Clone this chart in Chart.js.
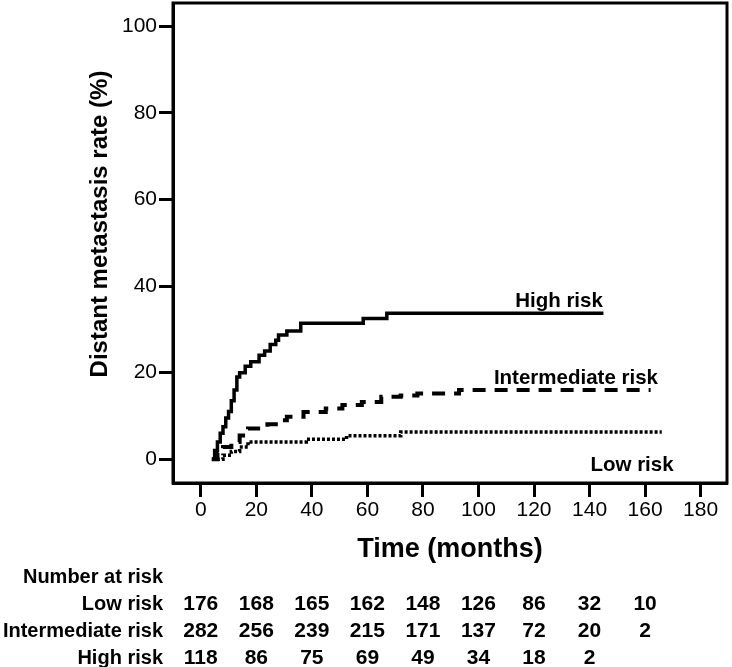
<!DOCTYPE html>
<html>
<head>
<meta charset="utf-8">
<title>Distant metastasis rate</title>
<script src="https://cdn.jsdelivr.net/npm/chart.js@4/dist/chart.umd.min.js"></script>
<style>
  html, body { margin: 0; padding: 0; background: #fff; }
</style>
</head>
<body>
<canvas id="chart" width="732" height="667"></canvas>
<script>
// cumulative incidence curves (months, %)
const highTime = [4, 5, 6, 7, 8, 9, 10, 11, 12, 13, 14, 16, 18, 21, 23, 25, 27, 28, 31, 36, 58.5, 67, 145];
const highRate = [0, 2, 4, 6, 7.5, 9.5, 11, 13.5, 16, 19, 20, 21.5, 22.5, 24, 25, 26.5, 27.5, 28.7, 29.6, 31.4, 32.5, 33.7, 33.7];

const interTime = [4, 6, 8, 11, 14, 17, 24, 28, 31, 37, 45, 51, 58, 65, 72, 78, 93, 162];
const interRate = [0, 1.5, 2.8, 4, 5.5, 7.1, 8.1, 9, 9.8, 10.9, 11.7, 12.5, 13.2, 14.4, 14.7, 15.2, 16.0, 16.0];

const lowTime = [4, 8, 11, 14, 17, 38, 52.5, 72, 166];
const lowRate = [0, 0.9, 1.8, 2.8, 4.0, 4.6, 5.4, 6.3, 6.3];

const xTicks = [0, 20, 40, 60, 80, 100, 120, 140, 160, 180];
const yTicks = [0, 20, 40, 60, 80, 100];

// number at risk table
const riskTimes = [0, 20, 40, 60, 80, 100, 120, 140, 160];
const riskGroups = ['Low risk', 'Intermediate risk', 'High risk'];
const atRiskLow = [176, 168, 165, 162, 148, 126, 86, 32, 10];
const atRiskInter = [282, 256, 239, 215, 171, 137, 72, 20, 2];
const atRiskHigh = [118, 86, 75, 69, 49, 34, 18, 2];

const curveNames = ['High risk', 'Intermediate risk', 'Low risk'];

const FONT = '"Liberation Sans", Arial, Helvetica, sans-serif';

function toPoints(ts, vs) {
    return ts.map((t, i) => ({x: t, y: vs[i]}));
}

// frame, y title, curve labels and the at-risk table
const extras = {
    id: 'extras',
    afterDraw(chart) {
        const {ctx, chartArea: a} = chart;
        const x = chart.scales.x, y = chart.scales.y;
        ctx.save();
        ctx.strokeStyle = '#000';
        ctx.lineWidth = 3;
        ctx.strokeRect(a.left, a.top, a.right - a.left, a.bottom - a.top);

        ctx.fillStyle = '#000';

        // y axis title
        ctx.save();
        ctx.translate(100, 224);
        ctx.rotate(-Math.PI / 2);
        ctx.font = 'bold 24px ' + FONT;
        ctx.textAlign = 'center';
        ctx.textBaseline = 'middle';
        ctx.fillText('Distant metastasis rate (%)', 0, 0);
        ctx.restore();

        // curve labels (anchored at cap centre)
        const labelAt = [[129, 36.8], [135.1, 19.2], [155.3, -0.9]];
        ctx.font = 'bold 20.5px ' + FONT;
        ctx.textAlign = 'center';
        ctx.textBaseline = 'alphabetic';
        curveNames.forEach((name, i) => {
            ctx.fillText(name, x.getPixelForValue(labelAt[i][0]), y.getPixelForValue(labelAt[i][1]) + 7.5);
        });

        // number at risk
        const rows = [atRiskLow, atRiskInter, atRiskHigh];
        const baselines = [609.5, 636.5, 663.5];
        ctx.font = 'bold 20px ' + FONT;
        ctx.textAlign = 'right';
        ctx.fillText('Number at risk', 163, 582.5);
        riskGroups.forEach((g, r) => {
            ctx.font = 'bold 20px ' + FONT;
            ctx.textAlign = 'right';
            ctx.fillText(g, 163, baselines[r]);
            ctx.font = 'bold 21px ' + FONT;
            ctx.textAlign = 'center';
            rows[r].forEach((n, i) => {
                ctx.fillText(String(n), x.getPixelForValue(riskTimes[i]), baselines[r]);
            });
        });
        ctx.restore();
    }
};

const axisGrid = {
    drawOnChartArea: false,
    drawTicks: true,
    tickLength: 14,
    tickWidth: 3,
    tickColor: '#000'
};

new Chart(document.getElementById('chart'), {
    type: 'line',
    data: {
        datasets: [
            {
                label: curveNames[0],
                data: toPoints(highTime, highRate),
                borderColor: '#000',
                borderWidth: 3.5,
                stepped: 'before',
                pointRadius: 0
            },
            {
                label: curveNames[1],
                data: toPoints(interTime, interRate),
                borderColor: '#000',
                borderWidth: 4,
                borderDash: [13, 9],
                stepped: 'before',
                pointRadius: 0
            },
            {
                label: curveNames[2],
                data: toPoints(lowTime, lowRate),
                borderColor: '#000',
                borderWidth: 3.5,
                borderDash: [3, 2],
                stepped: 'before',
                pointRadius: 0
            }
        ]
    },
    options: {
        responsive: false,
        animation: false,
        devicePixelRatio: 1,
        layout: { padding: { top: 3, right: 5, left: 0, bottom: 0 } },
        plugins: {
            legend: { display: false },
            tooltip: { enabled: false }
        },
        scales: {
            x: {
                type: 'linear',
                min: -10,
                max: 189.5,
                afterFit(s) { s.height = 184; s.paddingLeft = 0; s.paddingRight = 0; },
                afterBuildTicks(s) { s.ticks = xTicks.map(v => ({value: v})); },
                grid: axisGrid,
                border: { display: true, color: '#000', width: 3 },
                ticks: {
                    color: '#000',
                    font: { family: FONT, size: 21 },
                    padding: 1,
                    maxRotation: 0,
                    autoSkip: false
                },
                title: {
                    display: true,
                    text: 'Time (months)',
                    color: '#000',
                    font: { family: FONT, size: 27, weight: 'bold' },
                    padding: { top: 0, bottom: 101 }
                }
            },
            y: {
                type: 'linear',
                min: -5.5,
                max: 105.4,
                afterFit(s) { s.width = 173; s.paddingTop = 0; s.paddingBottom = 0; },
                afterBuildTicks(s) { s.ticks = yTicks.map(v => ({value: v})); },
                grid: axisGrid,
                border: { display: true, color: '#000', width: 3 },
                ticks: {
                    color: '#000',
                    font: { family: FONT, size: 21 },
                    padding: 2
                }
            }
        }
    },
    plugins: [extras]
});
</script>
</body>
</html>
